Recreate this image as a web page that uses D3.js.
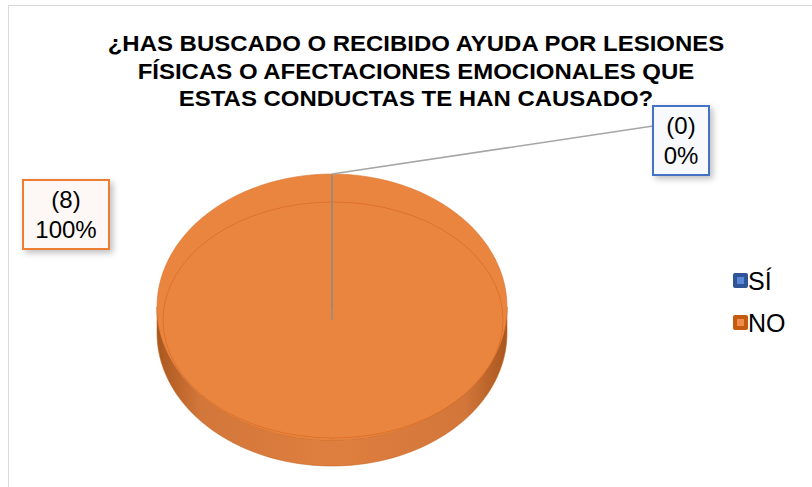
<!DOCTYPE html>
<html>
<head>
<meta charset="utf-8">
<script src="https://cdn.jsdelivr.net/npm/d3@7"></script>
<style>
  body { margin: 0; background: #fff; }
  svg { display: block; font-family: "Liberation Sans", Arial, sans-serif; }
</style>
</head>
<body>
<div id="main"></div>
<script>
// DATA
const categories = ["SÍ", "NO"]
const counts = [0, 8]
const titleLines = [
  "¿HAS BUSCADO O RECIBIDO AYUDA POR LESIONES",
  "FÍSICAS O AFECTACIONES EMOCIONALES QUE",
  "ESTAS CONDUCTAS TE HAN CAUSADO?"
]

// COLORS
const topColors = ["#4472c4", "#ea8540"]
const legendOuter = ["#2f5597", "#c55a11"]
const legendInner = ["#5b87d6", "#f08c4a"]
const boxBorder = ["#4472c4", "#ed7d31"]

const width = 812, height = 487
const cx = 332, cy = 307, rx = 175, ry = 133, depth = 26

let svg = d3.select("#main").append("svg")
  .attr("width", width)
  .attr("height", height)

let defs = svg.append("defs")
let shadow = defs.append("filter").attr("id", "shadow")
  .attr("x", "-20%").attr("y", "-20%").attr("width", "150%").attr("height", "150%")
shadow.append("feDropShadow")
  .attr("dx", 3).attr("dy", 3).attr("stdDeviation", 3)
  .attr("flood-color", "#000").attr("flood-opacity", 0.25)

let sideGrad = defs.append("linearGradient").attr("id", "side")
  .attr("x1", "0%").attr("x2", "100%")
sideGrad.selectAll("stop")
  .data([[0, "#a9571f"], [0.12, "#d2763a"], [0.5, "#df7f3f"], [0.88, "#d2763a"], [1, "#a9571f"]])
  .enter().append("stop")
  .attr("offset", d => d[0]).attr("stop-color", d => d[1])

// chart frame
svg.append("rect")
  .attr("x", 8.5).attr("y", 5.5)
  .attr("width", width + 20).attr("height", height + 20)
  .attr("fill", "#fff").attr("stroke", "#d9d9d9")

// title (source font is a bit wider than Liberation, so stretch slightly)
svg.append("g").selectAll("text")
  .data(titleLines)
  .enter().append("text")
  .attr("transform", (d, i) => `translate(416, ${51 + i * 27.5}) scale(1.09, 1)`)
  .attr("text-anchor", "middle")
  .attr("font-size", 22)
  .attr("font-weight", "bold")
  .attr("fill", "#000")
  .text(d => d)

// PIE
let pie = d3.pie().sort(null).value(d => d)
let slices = pie(counts)

function pt(a, dy) {
  return [cx + rx * Math.sin(a), cy - ry * Math.cos(a) + (dy || 0)]
}

function topPath(d) {
  let n = 120, pts = [[cx, cy]]
  for (let i = 0; i <= n; i++) pts.push(pt(d.startAngle + (d.endAngle - d.startAngle) * i / n))
  return d3.line()(pts) + "Z"
}

function sidePath(d) {
  let a0 = Math.max(d.startAngle, Math.PI / 2)
  let a1 = Math.min(d.endAngle, 3 * Math.PI / 2)
  if (a1 <= a0) return null
  let n = 100, top = [], bot = []
  for (let i = 0; i <= n; i++) {
    let a = a0 + (a1 - a0) * i / n
    top.push(pt(a))
    bot.push(pt(a, depth))
  }
  return d3.line()(top.concat(bot.reverse())) + "Z"
}

let g = svg.append("g")

g.selectAll("path.side")
  .data(slices.filter(d => d.endAngle > d.startAngle))
  .enter().append("path")
  .attr("class", "side")
  .attr("d", sidePath)
  .attr("fill", "url(#side)")
  .attr("stroke", "#c9651f").attr("stroke-width", 0.6)

g.selectAll("path.top")
  .data(slices.filter(d => d.endAngle > d.startAngle))
  .enter().append("path")
  .attr("class", "top")
  .attr("d", topPath)
  .attr("fill", d => topColors[d.index])
  .attr("stroke", "#d9732e").attr("stroke-width", 0.6)

// bevel line on top face
g.append("ellipse")
  .attr("cx", cx + 1).attr("cy", cy + 13)
  .attr("rx", rx - 5).attr("ry", ry - 15)
  .attr("fill", "none")
  .attr("stroke", "#d8691f").attr("stroke-width", 1)
  .attr("opacity", 0.7)

// zero slice edge
let zero = slices[0]
let edgeTop = pt(zero.startAngle)
g.append("line")
  .attr("x1", cx).attr("y1", cy + 13)
  .attr("x2", edgeTop[0]).attr("y2", edgeTop[1])
  .attr("stroke", "#8c8c8c").attr("stroke-width", 1.5)

// LABELS
const labelBoxes = [
  { x: 653, y: 106, w: 56, h: 69 },
  { x: 23, y: 180, w: 86, h: 69 }
]

g.append("line")
  .attr("x1", edgeTop[0]).attr("y1", edgeTop[1])
  .attr("x2", labelBoxes[0].x).attr("y2", 126)
  .attr("stroke", "#a6a6a6").attr("stroke-width", 1.5)

let total = d3.sum(counts)
let lab = svg.append("g").selectAll("g")
  .data(categories)
  .enter().append("g")

lab.append("rect")
  .attr("x", (d, i) => labelBoxes[i].x)
  .attr("y", (d, i) => labelBoxes[i].y)
  .attr("width", (d, i) => labelBoxes[i].w)
  .attr("height", (d, i) => labelBoxes[i].h)
  .attr("fill", (d, i) => i === 0 ? "#f7f9fd" : "#fdf8f5")
  .attr("stroke", (d, i) => boxBorder[i])
  .attr("stroke-width", 2)
  .attr("filter", "url(#shadow)")

lab.append("text")
  .attr("x", (d, i) => labelBoxes[i].x + labelBoxes[i].w / 2)
  .attr("y", (d, i) => labelBoxes[i].y + 28)
  .attr("text-anchor", "middle")
  .attr("font-size", 24)
  .text((d, i) => "(" + counts[i] + ")")

lab.append("text")
  .attr("x", (d, i) => labelBoxes[i].x + labelBoxes[i].w / 2)
  .attr("y", (d, i) => labelBoxes[i].y + 58)
  .attr("text-anchor", "middle")
  .attr("font-size", 24)
  .text((d, i) => d3.format(".0%")(counts[i] / total))

// LEGEND
let leg = svg.append("g").selectAll("g")
  .data(categories)
  .enter().append("g")
  .attr("transform", (d, i) => `translate(733, ${273 + i * 42})`)

leg.append("rect")
  .attr("width", 15).attr("height", 15).attr("rx", 2)
  .attr("fill", (d, i) => legendOuter[i])
leg.append("rect")
  .attr("x", 4).attr("y", 4)
  .attr("width", 7).attr("height", 7)
  .attr("fill", (d, i) => legendInner[i])
leg.append("text")
  .attr("x", 15).attr("y", 16.5)
  .attr("font-size", 25)
  .text(d => d)
</script>
</body>
</html>
